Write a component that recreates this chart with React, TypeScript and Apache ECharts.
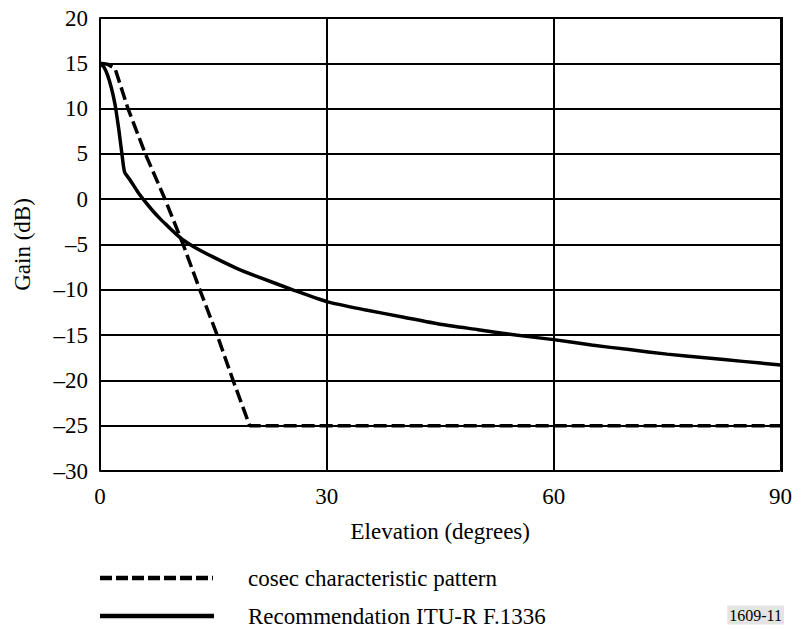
import React, { useEffect, useRef } from "react";
import * as echarts from "echarts";

const xTicks = [0, 30, 60, 90];
const yRange = [-30, 20];

const cosecPattern: [number, number][] = [
  [0, 15], [1, 14.9], [2, 14.4], [3.7, 10], [6, 5], [8.6, 0], [11, -5],
  [13.2, -10], [15.5, -15], [17.6, -20], [19.8, -25], [90, -25],
];

const f1336Pattern: [number, number][] = [
  [0, 15], [0.5, 14.6], [1, 13.7], [1.5, 12.3], [2, 10.4], [2.5, 7.6], [2.9, 5], [3.25, 3],
  [4, 2.1], [5, 0.8], [6, -0.3], [7, -1.3], [8, -2.2], [9, -3.0], [10, -3.8], [11, -4.5],
  [12.5, -5.3], [15, -6.4], [18, -7.6], [21, -8.6], [25.5, -10], [30, -11.3], [35, -12.2],
  [40, -13], [45, -13.8], [50, -14.4], [55, -15], [60, -15.5], [65, -16.1], [70, -16.6],
  [75, -17.1], [80, -17.5], [85, -17.9], [90, -18.3],
];

const seriesNames = ["cosec characteristic pattern", "Recommendation ITU-R F.1336"];
const xAxisTitle = "Elevation (degrees)";
const yAxisTitle = "Gain (dB)";
const figureId = "1609-11";

const FONT = '"Liberation Serif", "Times New Roman", serif';
const FS = 23;

export default function App() {
  const ref = useRef<HTMLDivElement>(null);
  useEffect(() => {
    if (!ref.current) return;
    const chart = echarts.init(ref.current, null, { renderer: "svg" });
    const fmt = (v: number) => String(v).replace("-", "\u2013");
    chart.setOption({
      animation: false,
      backgroundColor: "#ffffff",
      textStyle: { fontFamily: FONT, color: "#000" },
      grid: { left: 100, right: 13, top: 18, bottom: 158, containLabel: false },
      xAxis: {
        type: "value",
        min: xTicks[0],
        max: xTicks[xTicks.length - 1],
        interval: 30,
        name: xAxisTitle,
        nameLocation: "middle",
        nameGap: 49,
        nameTextStyle: { fontFamily: FONT, fontSize: FS, color: "#000" },
        axisLine: { show: true, lineStyle: { color: "#000", width: 2 } },
        axisTick: { show: false },
        axisLabel: { fontFamily: FONT, fontSize: FS, color: "#000", margin: 14, formatter: fmt },
        splitLine: { show: true, lineStyle: { color: "#000", width: 2 } },
      },
      yAxis: {
        type: "value",
        min: yRange[0],
        max: yRange[1],
        interval: 5,
        name: yAxisTitle,
        nameLocation: "middle",
        nameGap: 66,
        nameRotate: 90,
        nameTextStyle: { fontFamily: FONT, fontSize: FS, color: "#000" },
        axisLine: { show: true, lineStyle: { color: "#000", width: 2 } },
        axisTick: { show: false },
        axisLabel: { fontFamily: FONT, fontSize: FS, color: "#000", margin: 12, formatter: fmt },
        splitLine: { show: true, lineStyle: { color: "#000", width: 2 } },
      },
      legend: { show: false },
      graphic: [
        {
          type: "line",
          shape: { x1: 100, y1: 578, x2: 213, y2: 578 },
          style: { stroke: "#000", lineWidth: 4.5, lineDash: [12, 4] },
        },
        {
          type: "text",
          x: 248,
          y: 578,
          style: { text: seriesNames[0], fontFamily: FONT, fontSize: FS, fill: "#000", verticalAlign: "middle", align: "left" },
        },
        {
          type: "line",
          shape: { x1: 100, y1: 616, x2: 214, y2: 616 },
          style: { stroke: "#000", lineWidth: 4.5 },
        },
        {
          type: "text",
          x: 248,
          y: 616,
          style: { text: seriesNames[1], fontFamily: FONT, fontSize: FS, fill: "#000", verticalAlign: "middle", align: "left" },
        },
        {
          type: "text",
          x: 784,
          y: 615,
          style: {
            text: figureId,
            fontFamily: FONT,
            fontSize: 16,
            fill: "#000",
            align: "right",
            verticalAlign: "middle",
            backgroundColor: "#e4e4e4",
            padding: [2, 2, 1, 2],
          },
        },
        {
          type: "rect",
          left: 781,
          top: 17,
          shape: { width: 2, height: 455 },
          style: { fill: "#000" },
        },
        {
          type: "rect",
          left: 100,
          top: 17,
          shape: { width: 683, height: 2 },
          style: { fill: "#000" },
        },
      ],
      series: [
        {
          name: seriesNames[0],
          type: "line",
          data: cosecPattern,
          showSymbol: false,
          symbol: "none",
          smooth: false,
          lineStyle: { color: "#000", width: 3.5, type: [13, 5] },
          itemStyle: { color: "#000" },
        },
        {
          name: seriesNames[1],
          type: "line",
          data: f1336Pattern,
          showSymbol: false,
          symbol: "none",
          smooth: 0.2,
          lineStyle: { color: "#000", width: 3.5, type: "solid" },
          itemStyle: { color: "#000" },
        },
      ],
    });
    return () => chart.dispose();
  }, []);
  return <div ref={ref} style={{ width: 795, height: 629, position: "absolute", left: 0, top: 0 }} />;
}
